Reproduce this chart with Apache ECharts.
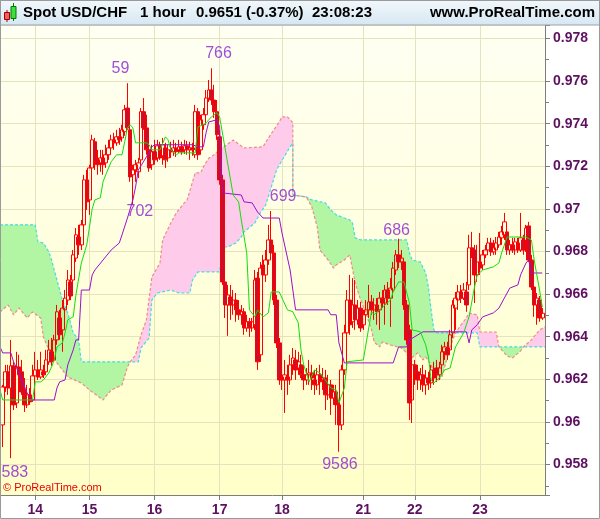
<!DOCTYPE html>
<html><head><meta charset="utf-8">
<script src="https://cdn.jsdelivr.net/npm/echarts@6/dist/echarts.min.js"></script>
<style>html,body{margin:0;padding:0;background:#fff}#c{width:600px;height:519px}</style>
</head><body><div id="c"></div>
<script>
// ---------- data ----------
const dayLabels = ['14','15','16','17','18','21','22','23'];
const dayStartSlot = [13,33,57,81,104,134,153,177];

const open = [0.95986,0.96164,0.96235,0.96159,0.96263,0.96089,0.96258,0.96235,0.96150,0.96080,
0.96127,0.96103,0.96216,0.96244,0.96211,0.96235,0.96235,0.96282,0.96329,0.96291,
0.96385,0.96488,0.96432,0.96526,0.96572,0.96657,0.96666,0.96769,0.96868,0.96831,
0.96925,0.97136,0.97042,0.97192,0.97315,0.97230,0.97216,0.97239,0.97216,0.97254,
0.97286,0.97324,0.97310,0.97338,0.97333,0.97362,0.97473,0.97371,0.97160,0.97183,
0.97174,0.97230,0.97456,0.97380,0.97277,0.97207,0.97268,0.97239,0.97296,0.97249,
0.97286,0.97239,0.97277,0.97268,0.97286,0.97277,0.97291,0.97277,0.97296,0.97277,
0.97286,0.97254,0.97456,0.97277,0.97395,0.97442,0.97520,0.97558,0.97511,0.97456,
0.97338,0.97136,0.96657,0.96549,0.96586,0.96549,0.96572,0.96526,0.96503,0.96517,
0.96441,0.96470,0.96441,0.96456,0.96675,0.96315,0.96737,0.96690,0.96760,0.96854,
0.96793,0.96572,0.96371,0.96197,0.96197,0.96211,0.96197,0.96268,0.96291,0.96253,
0.96268,0.96221,0.96197,0.96221,0.96230,0.96197,0.96174,0.96221,0.96197,0.96206,
0.96127,0.96174,0.96112,0.96141,0.96080,0.95986,0.96244,0.96418,0.96572,0.96470,
0.96549,0.96479,0.96534,0.96456,0.96503,0.96526,0.96563,0.96526,0.96549,0.96526,
0.96581,0.96558,0.96619,0.96581,0.96619,0.96713,0.96784,0.96751,0.96751,0.96549,
0.96432,0.96103,0.96268,0.96235,0.96197,0.96221,0.96174,0.96206,0.96183,0.96244,
0.96253,0.96221,0.96268,0.96329,0.96347,0.96338,0.96418,0.96534,0.96572,0.96610,
0.96581,0.96610,0.96643,0.96817,0.96807,0.96690,0.96751,0.96737,0.96784,0.96807,
0.96840,0.96798,0.96807,0.96831,0.96864,0.96878,0.96892,0.96807,0.96831,0.96807,
0.96840,0.96807,0.96854,0.96807,0.96920,0.96760,0.96633,0.96549,0.96572,0.96488];

const close = [0.96164,0.96235,0.96159,0.96263,0.96080,0.96258,0.96221,0.96141,0.96080,0.96127,
0.96094,0.96216,0.96244,0.96211,0.96244,0.96221,0.96291,0.96338,0.96282,0.96385,
0.96517,0.96409,0.96534,0.96581,0.96666,0.96591,0.96784,0.96878,0.96831,0.96925,
0.97136,0.97033,0.97192,0.97324,0.97221,0.97207,0.97239,0.97207,0.97254,0.97286,
0.97324,0.97310,0.97338,0.97324,0.97371,0.97465,0.97380,0.97150,0.97183,0.97207,
0.97216,0.97456,0.97380,0.97277,0.97192,0.97268,0.97230,0.97296,0.97239,0.97301,
0.97230,0.97277,0.97268,0.97286,0.97268,0.97291,0.97268,0.97296,0.97277,0.97286,
0.97277,0.97456,0.97254,0.97418,0.97442,0.97520,0.97558,0.97511,0.97456,0.97348,
0.97136,0.96657,0.96549,0.96596,0.96549,0.96572,0.96526,0.96503,0.96517,0.96441,
0.96470,0.96441,0.96470,0.96666,0.96282,0.96722,0.96690,0.96760,0.96854,0.96793,
0.96572,0.96371,0.96197,0.96211,0.96221,0.96197,0.96268,0.96300,0.96244,0.96282,
0.96221,0.96197,0.96221,0.96230,0.96206,0.96174,0.96221,0.96188,0.96206,0.96127,
0.96174,0.96112,0.96141,0.96080,0.95986,0.96244,0.96418,0.96572,0.96456,0.96549,
0.96479,0.96534,0.96441,0.96503,0.96526,0.96563,0.96526,0.96549,0.96517,0.96581,
0.96558,0.96619,0.96581,0.96628,0.96722,0.96784,0.96751,0.96769,0.96549,0.96385,
0.96089,0.96268,0.96235,0.96197,0.96221,0.96174,0.96206,0.96183,0.96244,0.96206,
0.96221,0.96253,0.96329,0.96352,0.96315,0.96409,0.96549,0.96581,0.96610,0.96581,
0.96619,0.96549,0.96817,0.96798,0.96690,0.96751,0.96722,0.96784,0.96807,0.96840,
0.96798,0.96817,0.96840,0.96868,0.96892,0.96939,0.96807,0.96831,0.96807,0.96845,
0.96807,0.96864,0.96807,0.96910,0.96760,0.96633,0.96549,0.96581,0.96488,0.96510];

const low = [0.95882,0.96141,0.96127,0.95830,0.96056,0.96065,0.96197,0.96127,0.96047,0.96065,
0.96080,0.96094,0.96188,0.96197,0.96202,0.96206,0.96221,0.96268,0.96263,0.96282,
0.96362,0.96385,0.96329,0.96503,0.96549,0.96572,0.96643,0.96751,0.96784,0.96807,
0.96892,0.96995,0.96972,0.97174,0.97183,0.97160,0.97174,0.97160,0.97192,0.97230,
0.97268,0.97277,0.97296,0.97301,0.97315,0.97343,0.97371,0.97127,0.97020,0.97127,
0.97145,0.97207,0.97371,0.97254,0.97174,0.97183,0.97207,0.97221,0.97230,0.97207,
0.97192,0.97221,0.97239,0.97249,0.97244,0.97263,0.97254,0.97258,0.97254,0.97230,
0.97249,0.97239,0.97230,0.97254,0.97371,0.97418,0.97502,0.97488,0.97427,0.97324,
0.97113,0.96643,0.96488,0.96404,0.96479,0.96503,0.96470,0.96479,0.96456,0.96409,
0.96423,0.96399,0.96423,0.96432,0.96244,0.96282,0.96666,0.96657,0.96737,0.96769,
0.96549,0.96347,0.96174,0.96150,0.96042,0.96127,0.96174,0.96221,0.96197,0.96221,
0.96206,0.96150,0.96174,0.96174,0.96150,0.96127,0.96150,0.96127,0.96150,0.96056,
0.96103,0.96033,0.96080,0.95986,0.95860,0.95962,0.96221,0.96385,0.96409,0.96441,
0.96432,0.96456,0.96423,0.96432,0.96479,0.96488,0.96503,0.96479,0.96456,0.96432,
0.96534,0.96456,0.96549,0.96446,0.96596,0.96690,0.96722,0.96713,0.96526,0.96362,
0.96009,0.95995,0.96174,0.96150,0.96150,0.96141,0.96127,0.96150,0.96159,0.96174,
0.96188,0.96197,0.96244,0.96291,0.96291,0.96315,0.96394,0.96432,0.96526,0.96558,
0.96572,0.96517,0.96619,0.96769,0.96558,0.96657,0.96690,0.96713,0.96769,0.96784,
0.96779,0.96784,0.96784,0.96817,0.96831,0.96854,0.96784,0.96784,0.96793,0.96784,
0.96793,0.96798,0.96784,0.96798,0.96751,0.96619,0.96493,0.96456,0.96470,0.96479];

const high = [0.96174,0.96268,0.96268,0.96385,0.96282,0.96329,0.96315,0.96291,0.96206,0.96174,
0.96159,0.96268,0.96329,0.96291,0.96329,0.96268,0.96338,0.96385,0.96394,0.96409,
0.96549,0.96526,0.96572,0.96619,0.96713,0.96690,0.96807,0.96910,0.96925,0.96948,
0.97160,0.97183,0.97207,0.97348,0.97333,0.97277,0.97277,0.97277,0.97301,0.97324,
0.97348,0.97357,0.97371,0.97380,0.97395,0.97488,0.97590,0.97395,0.97207,0.97230,
0.97239,0.97473,0.97520,0.97442,0.97301,0.97301,0.97324,0.97324,0.97315,0.97333,
0.97310,0.97301,0.97315,0.97324,0.97310,0.97324,0.97315,0.97324,0.97319,0.97315,
0.97310,0.97488,0.97473,0.97442,0.97473,0.97558,0.97605,0.97660,0.97582,0.97511,
0.97371,0.97160,0.96675,0.96643,0.96643,0.96619,0.96605,0.96572,0.96549,0.96534,
0.96503,0.96488,0.96488,0.96713,0.96704,0.96751,0.96784,0.96807,0.96925,0.96990,
0.96831,0.96596,0.96394,0.96244,0.96291,0.96268,0.96315,0.96347,0.96338,0.96329,
0.96315,0.96268,0.96253,0.96291,0.96268,0.96244,0.96253,0.96268,0.96253,0.96244,
0.96221,0.96197,0.96174,0.96174,0.96103,0.96268,0.96456,0.96619,0.96690,0.96675,
0.96666,0.96572,0.96563,0.96526,0.96572,0.96643,0.96596,0.96581,0.96581,0.96610,
0.96619,0.96643,0.96657,0.96675,0.96751,0.96807,0.96860,0.96807,0.96769,0.96572,
0.96456,0.96300,0.96291,0.96268,0.96253,0.96268,0.96244,0.96235,0.96268,0.96282,
0.96291,0.96282,0.96362,0.96376,0.96376,0.96432,0.96572,0.96610,0.96643,0.96643,
0.96652,0.96657,0.96878,0.96892,0.96831,0.96831,0.96887,0.96807,0.96831,0.96864,
0.96864,0.96854,0.96868,0.96892,0.96920,0.96981,0.96910,0.96854,0.96864,0.96864,
0.96864,0.96981,0.96878,0.96925,0.96939,0.96784,0.96652,0.96605,0.96591,0.96534];

// Ichimoku lines, [slot, value] breakpoints (slot 1 = first candle)
const tenkan = [[0,0.96150],[1,0.96103],[12,0.96103],[13,0.96188],[15,0.96188],[16,0.96197],[18,0.96230],[19,0.96258],[20,0.96291],[21,0.96352],[23,0.96371],[24,0.96418],[25,0.96479],[27,0.96493],[28,0.96596],[30,0.96746],[32,0.96831],[34,0.97000],[35,0.97042],[37,0.97052],[38,0.97127],[39,0.97160],[41,0.97221],[43,0.97254],[45,0.97254],[46,0.97315],[47,0.97380],[48,0.97395],[49,0.97380],[50,0.97310],[54,0.97310],[55,0.97301],[56,0.97277],[59,0.97277],[61,0.97338],[62,0.97324],[63,0.97277],[65,0.97254],[66,0.97263],[72,0.97263],[73,0.97385],[75,0.97395],[76,0.97404],[78,0.97432],[80,0.97451],[81,0.97432],[86,0.97065],[88,0.97033],[89,0.96948],[91,0.96793],[92,0.96526],[94,0.96493],[95,0.96526],[97,0.96493],[99,0.96512],[100,0.96610],[103,0.96610],[106,0.96526],[108,0.96517],[110,0.96465],[111,0.96338],[112,0.96268],[114,0.96188],[116,0.96244],[118,0.96230],[120,0.96197],[122,0.96159],[124,0.96150],[125,0.96089],[127,0.96159],[128,0.96282],[134,0.96291],[137,0.96517],[138,0.96503],[140,0.96526],[144,0.96572],[145,0.96610],[147,0.96657],[149,0.96657],[151,0.96558],[152,0.96432],[155,0.96423],[157,0.96362],[158,0.96305],[159,0.96197],[160,0.96183],[162,0.96206],[164,0.96244],[166,0.96253],[168,0.96352],[171,0.96418],[172,0.96456],[173,0.96493],[175,0.96633],[176,0.96690],[178,0.96713],[182,0.96728],[184,0.96746],[185,0.96793],[187,0.96868],[194,0.96868],[196,0.96854],[197,0.96760],[199,0.96619],[200,0.96539]];

const kijun = [[0,0.96352],[1,0.96324],[4,0.96324],[5,0.96282],[7,0.96230],[8,0.96197],[10,0.96136],[12,0.96103],[20,0.96103],[21,0.96159],[22,0.96188],[24,0.96197],[25,0.96268],[27,0.96338],[28,0.96385],[29,0.96385],[30,0.96619],[33,0.96619],[34,0.96690],[35,0.96713],[38,0.96760],[41,0.96807],[44,0.96840],[45,0.96878],[47,0.96957],[49,0.97042],[50,0.97103],[51,0.97183],[52,0.97202],[54,0.97244],[56,0.97291],[57,0.97301],[71,0.97301],[73,0.97291],[75,0.97291],[76,0.97357],[77,0.97408],[80,0.97418],[81,0.97385],[82,0.97075],[89,0.97065],[90,0.97033],[93,0.97028],[95,0.96985],[97,0.96957],[103,0.96957],[104,0.96887],[107,0.96713],[109,0.96526],[121,0.96526],[122,0.96503],[124,0.96503],[125,0.96371],[127,0.96277],[145,0.96277],[147,0.96352],[150,0.96352],[151,0.96385],[156,0.96423],[172,0.96423],[173,0.96371],[174,0.96432],[176,0.96456],[178,0.96493],[182,0.96512],[184,0.96534],[186,0.96581],[188,0.96628],[191,0.96643],[192,0.96690],[194,0.96746],[195,0.96760],[196,0.96699],[200,0.96699]];

const spanA = [[0,0.96925],[13,0.96925],[14,0.96845],[16,0.96840],[18,0.96798],[19,0.96760],[23,0.96572],[25,0.96511],[27,0.96418],[29,0.96385],[30,0.96282],[48,0.96282],[51,0.96282],[52,0.96347],[55,0.96394],[56,0.96572],[58,0.96605],[63,0.96619],[66,0.96605],[70,0.96605],[71,0.96666],[73,0.96704],[81,0.96704],[82,0.96821],[84,0.96821],[87,0.96840],[89,0.96868],[90,0.96892],[94,0.96934],[96,0.96981],[98,0.97018],[102,0.97183],[103,0.97206],[107,0.97291],[108,0.97310],[108,0.97065],[113,0.97056],[115,0.97042],[120,0.97028],[122,0.96995],[124,0.96972],[127,0.96957],[129,0.96948],[130,0.96934],[131,0.96864],[133,0.96854],[150,0.96854],[151,0.96793],[152,0.96760],[155,0.96751],[157,0.96699],[158,0.96633],[159,0.96525],[160,0.96432],[161,0.96418],[168,0.96418],[176,0.96418],[177,0.96352],[184,0.96352],[193,0.96352],[201,0.96352]];

const spanB = [[0,0.96516],[3,0.96549],[5,0.96502],[7,0.96535],[10,0.96488],[12,0.96516],[15,0.96488],[16,0.96399],[18,0.96338],[21,0.96277],[25,0.96211],[30,0.96183],[33,0.96150],[38,0.96103],[41,0.96150],[45,0.96173],[47,0.96258],[48,0.96282],[50,0.96314],[52,0.96408],[54,0.96479],[56,0.96680],[59,0.96746],[60,0.96854],[63,0.96934],[65,0.96981],[68,0.97028],[69,0.97042],[72,0.97169],[74,0.97169],[75,0.97197],[77,0.97239],[78,0.97244],[81,0.97277],[86,0.97323],[87,0.97314],[90,0.97286],[97,0.97291],[99,0.97333],[103,0.97408],[104,0.97432],[106,0.97432],[108,0.97404],[108,0.97065],[113,0.97056],[115,0.97009],[117,0.96915],[118,0.96807],[121,0.96760],[123,0.96722],[124,0.96737],[127,0.96760],[129,0.96784],[131,0.96652],[133,0.96572],[135,0.96511],[137,0.96432],[138,0.96375],[140,0.96352],[141,0.96375],[144,0.96361],[148,0.96347],[150,0.96324],[151,0.96291],[154,0.96324],[156,0.96291],[157,0.96305],[159,0.96267],[161,0.96188],[163,0.96211],[164,0.96258],[165,0.96305],[166,0.96352],[168,0.96418],[170,0.96455],[172,0.96488],[173,0.96511],[176,0.96502],[177,0.96422],[183,0.96422],[184,0.96352],[187,0.96310],[189,0.96300],[192,0.96333],[193,0.96352],[196,0.96385],[199,0.96432],[201,0.96446]];

// cloud pieces: [fromSlot, toSlot, 'up' (A above B) | 'down' (B above A)]
const cloudParts = [[0,48,'up'],[48,108,'down'],[113,168,'up'],[168,184,'down'],[184,193,'up'],[193,201,'down']];

// marked highs / lows
const extremeCandle = [3,46,77,48,99,124,146];
const extremeKind = ['low','high','high','low','high','low','high'];
const extremeText = ['583','59','766','702','699','9586','686'];

// ---------- chart ----------
const FONT = '"Liberation Sans", Arial, sans-serif';
const SLOTS = 202;
const labelShift = [[4,6],[-7,-7],[7,-7],[7,-1],[12,-6],[1,5],[-2,0]];
const cats = Array.from({length: SLOTS}, () => '');
dayStartSlot.forEach((s, k) => { cats[s] = dayLabels[k]; });
const candles = Array.from({length: SLOTS}, (_, h) => {
  const i = h - 1;
  return (i >= 0 && i < open.length) ? [open[i], close[i], low[i], high[i]] : '-';
});
const lastClose = close[close.length - 1];
const showDay = (idx, val) => val !== '';

function regionPoints(s, e, api) {
  const top = spanA.filter(p => p[0] >= s && p[0] <= e);
  const bot = spanB.filter(p => p[0] >= s && p[0] <= e).reverse();
  return top.concat(bot).map(p => api.coord(p));
}

const extremes = extremeCandle.map((i, k) => {
  const isHigh = extremeKind[k] === 'high';
  return {
    value: [i + 1, isHigh ? high[i] : low[i]],
    label: { position: isHigh ? 'top' : 'bottom', distance: 0, offset: labelShift[k], formatter: extremeText[k] }
  };
});

const chart = echarts.init(document.getElementById('c'), null, {renderer: 'canvas', width: 600, height: 519});
chart.setOption({
  animation: false,
  textStyle: {fontFamily: FONT},
  grid: {left: 0, right: 55, top: 25, bottom: 24, show: true, borderWidth: 0,
    backgroundColor: {type: 'linear', x: 0, y: 0, x2: 0, y2: 1,
      colorStops: [{offset: 0, color: '#fffff3'}, {offset: 1, color: '#ffffc8'}]}},
  xAxis: {type: 'category', data: cats, boundaryGap: false,
    axisLine: {lineStyle: {color: '#7d7d7d'}},
    axisTick: {interval: showDay, length: 5, lineStyle: {color: '#7d7d7d'}},
    axisLabel: {interval: showDay, color: '#5e1060', fontWeight: 'bold', fontSize: 14, margin: 8, fontFamily: FONT},
    splitLine: {show: true, interval: showDay, lineStyle: {color: '#e6e2bd'}}},
  yAxis: {type: 'value', position: 'right', min: 0.95657, max: 0.97863, splitNumber: 11, scale: true,
    axisLine: {show: true, lineStyle: {color: '#7d7d7d'}},
    axisTick: {show: true, length: 5, lineStyle: {color: '#7d7d7d'}},
    minorTick: {show: true, splitNumber: 2, length: 4, lineStyle: {color: '#7d7d7d'}},
    axisLabel: {showMinLabel: false, showMaxLabel: false, color: '#5e1060', fontWeight: 'bold', fontSize: 14, margin: 8, fontFamily: FONT,
      formatter: v => String(Number(v.toFixed(3)))},
    splitLine: {show: true, lineStyle: {color: '#e6e2bd'}}},
  series: [
    {type: 'custom', name: 'cloud', silent: true, z: 1, clip: true, data: [[0, spanA[0][1]]],
      renderItem: (params, api) => ({type: 'group', children: cloudParts.map(([s, e, k]) => ({
        type: 'polygon', shape: {points: regionPoints(s, e, api)},
        style: {fill: k === 'up' ? '#b2f5a3' : '#ffcbea'}}))})},
    {type: 'line', name: 'Senkou A', data: spanA, showSymbol: false, symbol: 'none', z: 2, silent: true,
      lineStyle: {color: '#3fdde6', width: 1.2, type: [3, 2]}},
    {type: 'line', name: 'Senkou B', data: spanB, showSymbol: false, symbol: 'none', z: 2, silent: true,
      lineStyle: {color: '#f08a8a', width: 1.2, type: [3, 2]}},
    {type: 'candlestick', name: 'USD/CHF', data: candles, barWidth: 4, z: 3,
      itemStyle: {color: 'transparent', color0: '#c8102e', borderColor: '#ff0000', borderColor0: '#ff0000', borderWidth: 1},
      markLine: {silent: true, symbol: ['none', 'none'], data: [{yAxis: lastClose}], lineStyle: {opacity: 0},
        label: {position: 'end', distance: 4, formatter: () => lastClose.toFixed(4), color: '#000', fontWeight: 'bold', fontSize: 14,
          fontFamily: FONT, backgroundColor: '#f8c400', borderColor: '#9a7a00', borderWidth: 1, padding: [2, 2, 1, 2]}}},
    {type: 'line', name: 'Kijun', data: kijun, showSymbol: false, symbol: 'none', z: 4, silent: true,
      lineStyle: {color: '#9a11cc', width: 1}},
    {type: 'line', name: 'Tenkan', data: tenkan, showSymbol: false, symbol: 'none', z: 4, silent: true,
      lineStyle: {color: '#11dd11', width: 1}},
    {type: 'scatter', name: 'extremes', data: extremes, symbolSize: 0, z: 5, silent: true,
      label: {show: true, color: '#8a22d0', fontSize: 16, lineHeight: 16, fontFamily: FONT}}
  ],
  graphic: [
    {type: 'rect', z: 50, shape: {x: 0, y: 0, width: 600, height: 25},
      style: {fill: {type: 'linear', x: 0, y: 0, x2: 0, y2: 1, colorStops: [{offset: 0, color: '#f2f8fc'}, {offset: 1, color: '#d6e7f2'}]}, stroke: '#9aa4ad', lineWidth: 1}},
    {type: 'line', z: 51, shape: {x1: 7, y1: 10, x2: 7, y2: 22}, style: {stroke: '#a00000', lineWidth: 1}},
    {type: 'rect', z: 52, shape: {x: 4.5, y: 12.5, width: 5, height: 7}, style: {fill: '#f06060', stroke: '#a00000', lineWidth: 1}},
    {type: 'line', z: 51, shape: {x1: 13.5, y1: 3, x2: 13.5, y2: 21}, style: {stroke: '#007700', lineWidth: 1}},
    {type: 'rect', z: 52, shape: {x: 11, y: 6.5, width: 5, height: 12}, style: {fill: '#3ee03e', stroke: '#007700', lineWidth: 1}},
    {type: 'text', z: 52, left: 23, top: 5, style: {text: 'Spot USD/CHF', font: 'bold 15px ' + FONT, fill: '#000'}},
    {type: 'text', z: 52, left: 140, top: 5, style: {text: '1 hour', font: 'bold 15px ' + FONT, fill: '#000'}},
    {type: 'text', z: 52, left: 196, top: 5, style: {text: lastClose.toFixed(4) + ' (-0.37%)', font: 'bold 15px ' + FONT, fill: '#000'}},
    {type: 'text', z: 52, left: 312, top: 5, style: {text: '23:08:23', font: 'bold 15px ' + FONT, fill: '#000'}},
    {type: 'text', z: 52, right: 5, top: 5, style: {text: 'www.ProRealTime.com', font: 'bold 15px ' + FONT, fill: '#000'}},
    {type: 'text', z: 60, left: 3, top: 482, style: {text: '\u00a9 ProRealTime.com', font: '11px ' + FONT, fill: '#ee0000'}},
    {type: 'rect', z: 70, shape: {x: 0.5, y: 0.5, width: 599, height: 518}, style: {fill: 'none', stroke: '#9a9a9a', lineWidth: 1}}
  ]
});
</script>
</body></html>
